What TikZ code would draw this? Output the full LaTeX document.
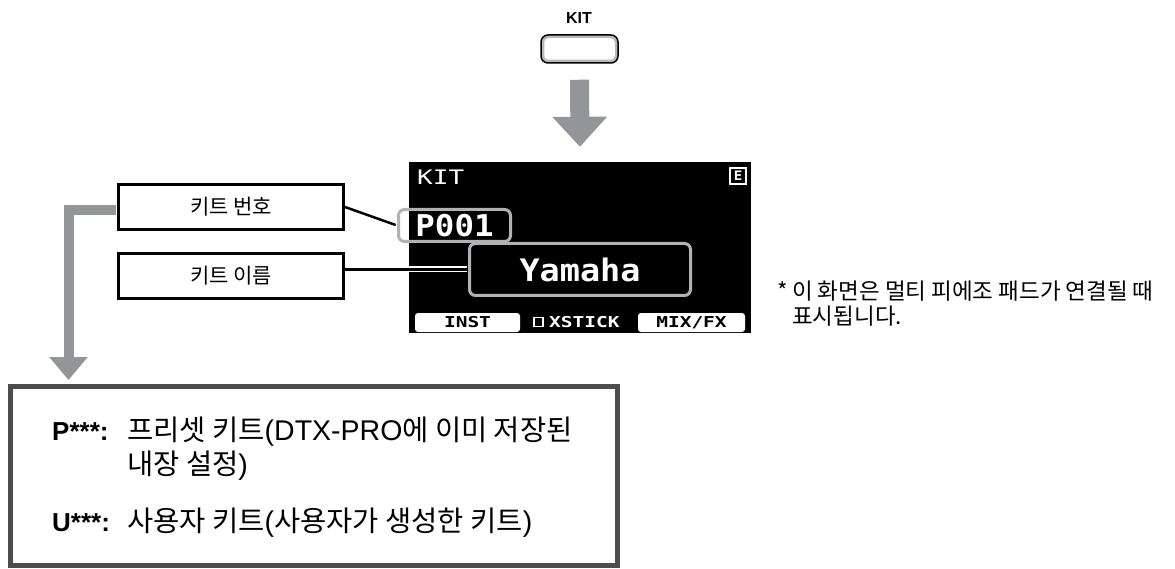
\documentclass[tikz,border=0pt]{standalone}
\usepackage{fontspec}
\usepackage{xcolor}
\usetikzlibrary{arrows.meta}
\setmainfont{Liberation Sans}
\newfontfamily\krfont{Noto Sans CJK KR}
\newfontfamily\lcdfont[FakeStretch=1.08]{DejaVu Sans Mono}
\newfontfamily\lcdsmall[FakeStretch=1.3]{DejaVu Sans Mono}
\definecolor{arrowgray}{HTML}{939598}
\definecolor{selgray}{HTML}{B1B2B4}
\definecolor{framegray}{HTML}{4D4D4F}

\begin{document}
\begin{tikzpicture}[x=1pt, y=-1pt, line join=miter,
  labelbox/.style={draw=black, fill=white, line width=3pt, minimum width=225pt, minimum height=45pt, inner sep=0pt, font=\krfont\fontsize{21}{24}\selectfont},
  selbox/.style={draw=selgray, line width=3pt, rounded corners=6pt, inner sep=0pt, text=white},
  softkey/.style={fill=white, rounded corners=3pt, minimum height=19pt, inner sep=0pt, font=\lcdsmall\bfseries\fontsize{15}{15}\selectfont},
  grayarrow/.style={draw=arrowgray, line width=10pt, -{Triangle[width=37pt,length=23pt]}},
  boxtext/.style={anchor=base west, inner sep=0pt, font=\fontsize{28.5}{32}\selectfont},
  notetext/.style={anchor=base west, inner sep=0pt, font=\krfont\fontsize{22.5}{25}\selectfont}]
\useasboundingbox (0,0) rectangle (1175,569);

% KIT button
\node[font=\bfseries\fontsize{16}{16}\selectfont, inner sep=0pt] (kitlabel) at (579,18) {KIT};
\node[draw=black, line width=1.5pt, fill=gray!55, rounded corners=7pt, minimum width=77pt, minimum height=28pt] (kitbtn) at (579.5,49) {};
\fill[white, rounded corners=4pt] ([shift={(4,4)}]kitbtn.north west) rectangle ([shift={(-4,-4)}]kitbtn.south east);

% display
\node[fill=black, minimum width=342pt, minimum height=171pt, inner sep=0pt] (screen) at (580,247.5) {};
\draw[draw=arrowgray, line width=19pt, -{Triangle[width=53pt,length=30pt]}, shorten <=16pt, shorten >=15pt] (kitbtn.south) -- (screen.north);

\node[anchor=base west, inner sep=0pt, text=white, font=\lcdsmall\fontsize{20}{20}\selectfont] (lcdtitle) at (417,185) {KIT};
\node[draw=white, line width=1.5pt, text=white, minimum size=16pt, inner sep=0pt, font=\lcdfont\bfseries\fontsize{13}{13}\selectfont] (editicon) at (738,176) {E};
\node[selbox, minimum width=112pt, minimum height=32pt, font=\lcdfont\bfseries\fontsize{30}{30}\selectfont] (numbox) at (454.5,225.5) {P001};
\node[selbox, minimum width=221pt, minimum height=52pt, font=\lcdfont\bfseries\fontsize{31}{31}\selectfont] (namebox) at (580,269.5) {Yamaha};

\node[softkey, minimum width=105pt] (instkey) at (467.5,322.5) {INST};
\node[draw=white, line width=1.5pt, minimum size=9pt, inner sep=0pt] (xcheck) at (538.5,322) {};
\node[anchor=west, inner sep=0pt, text=white, font=\lcdsmall\bfseries\fontsize{15}{15}\selectfont] (xstick) at (549,322.5) {XSTICK};
\node[softkey, minimum width=107pt] (mixkey) at (691.5,322.5) {MIX/FX};

% labels
\node[labelbox] (numlabel) at (231,207) {키트 번호};
\node[labelbox] (namelabel) at (231,276) {키트 이름};
\draw[line width=2.5pt, shorten >=1.5pt] (numlabel.east) -- (numbox.west);
\draw[white, line width=6pt, shorten >=1.5pt] (screen.west |- namebox.west) -- (namebox.west);
\draw[line width=2.5pt, shorten >=1.5pt] (namelabel.east |- namebox.west) -- (namebox.west);

% kit types
\node[draw=framegray, line width=5pt, minimum width=607pt, minimum height=179pt, inner sep=0pt] (infobox) at (314,476) {};
\coordinate (arrowtip) at (68.5,380);
\draw[grayarrow] ([shift={(-1.5pt,-3pt)}]numlabel.west) -| (arrowtip);

\node[boxtext, font=\bfseries\fontsize{26}{30}\selectfont] (ptag) at (52,440) {P***:};
\node[boxtext] (ptext) at (127,440) {{\krfont 프리셋 키트}(DTX-PRO{\krfont 에 이미 저장된}};
\node[boxtext] (ptextb) at (127,474) {{\krfont 내장 설정})};
\node[boxtext, font=\bfseries\fontsize{26}{30}\selectfont] (utag) at (52,531) {U***:};
\node[boxtext] (utext) at (127,531) {{\krfont 사용자 키트}({\krfont 사용자가 생성한 키트})};

% note
\node[notetext] (notestar) at (777,300) {*};
\node[notetext] (notea) at (792,300) {이 화면은 멀티 피에조 패드가 연결될 때};
\node[notetext] (noteb) at (792,324) {표시됩니다.};
\end{tikzpicture}
\end{document}
